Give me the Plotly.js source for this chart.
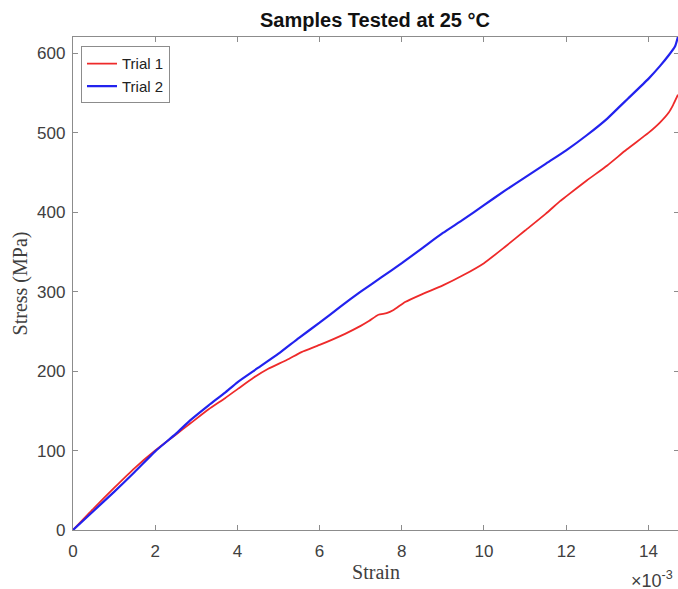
<!DOCTYPE html>
<html>
<head>
<meta charset="utf-8">
<script src="https://cdn.plot.ly/plotly-3.0.1.min.js"></script>
<style>html,body{margin:0;padding:0;overflow:hidden;background:#fff;}</style>
</head>
<body>
<div id="chart"></div>
<script>
// Strain values (x 10^-3) and stress (MPa)
const strainTrial1 = [0, 0.5, 1, 1.5, 2, 2.5, 2.85, 3.3, 3.7, 4.02, 4.4, 4.75, 5.2, 5.56, 6, 6.62, 7, 7.2, 7.43, 7.63, 7.8, 8.08, 8.5, 9, 9.5, 10, 10.5, 11, 11.5, 11.85, 12, 12.5, 13, 13.47, 14, 14.28, 14.5, 14.6, 14.72];
const stressTrial1 = [0, 27, 53, 78, 100, 120, 134, 152, 166, 178, 192, 203, 214, 224, 233, 247, 257, 263, 271, 273, 277, 287, 297, 308, 321, 336, 356, 377, 398, 414, 420, 440, 459, 479, 500, 513, 526, 535, 548];
const strainTrial2 = [0, 0.5, 1, 1.5, 2, 2.5, 2.85, 3.3, 3.7, 4, 4.5, 5, 5.5, 6, 6.5, 7, 7.5, 8, 8.5, 9, 9.5, 10, 10.5, 11, 11.5, 12, 12.5, 13, 13.3, 13.5, 14, 14.28, 14.5, 14.65, 14.72];
const stressTrial2 = [0, 24, 48, 73, 99, 121, 138, 157, 173, 186, 204, 222, 242, 261, 281, 300, 318, 336, 355, 374, 391, 409, 427, 444, 461, 478, 497, 518, 533, 543, 568, 584, 598, 609, 621];
const xTickVals = [0, 2, 4, 6, 8, 10, 12, 14];
const yTickVals = [0, 100, 200, 300, 400, 500, 600];
const seriesNames = ['Trial 1', 'Trial 2'];

const sans = 'Liberation Sans, Arial, Helvetica, sans-serif';
const serif = 'Liberation Serif, Times New Roman, serif';
const axisGray = '#8c8c8c';

const traces = [
  {x: strainTrial1, y: stressTrial1, name: seriesNames[0], mode: 'lines', type: 'scatter',
   line: {color: '#ee2a2a', width: 1.8, shape: 'spline', smoothing: 0.5}},
  {x: strainTrial2, y: stressTrial2, name: seriesNames[1], mode: 'lines', type: 'scatter',
   line: {color: '#2222ee', width: 2.2, shape: 'spline', smoothing: 0.5}}
];

const axisCommon = {
  showline: true, linecolor: axisGray, linewidth: 1.2, mirror: 'ticks',
  ticks: 'inside', ticklen: 5, tickcolor: axisGray, tickwidth: 1,
  showgrid: false, zeroline: false,
  tickfont: {family: sans, size: 17, color: '#404040'}
};

const layout = {
  width: 680, height: 589,
  margin: {l: 73, r: 1, t: 36.5, b: 59},
  paper_bgcolor: '#fff', plot_bgcolor: '#fff',
  showlegend: true,
  title: {text: '<b>Samples Tested at 25 °C</b>', font: {family: sans, size: 20, color: '#111'},
          x: 0.5515, xref: 'container', xanchor: 'center', y: 0.966, yref: 'container', yanchor: 'middle'},
  xaxis: Object.assign({}, axisCommon, {
    range: [0, 14.745], tickvals: xTickVals, ticktext: xTickVals.map(String),
    ticklabelstandoff: 5,
    title: {text: 'Strain', font: {family: serif, size: 20, color: '#404040'}, standoff: 5}
  }),
  yaxis: Object.assign({}, axisCommon, {
    range: [0, 620.7], tickvals: yTickVals, ticktext: yTickVals.map(String),
    ticklabelstandoff: 3,
    title: {text: 'Stress (MPa)', font: {family: serif, size: 20, color: '#404040'}, standoff: 4}
  }),
  legend: {x: 0.0132, y: 0.981, xanchor: 'left', yanchor: 'top',
           bgcolor: '#fff', bordercolor: '#8c8c8c', borderwidth: 1,
           font: {family: sans, size: 15, color: '#222'}, tracegroupgap: 0, itemwidth: 30},
  annotations: [{
    xref: 'paper', yref: 'paper', x: 0.918, y: -0.1, xanchor: 'left', yanchor: 'middle',
    text: '×10<sup>-3</sup>', showarrow: false, font: {family: sans, size: 18, color: '#404040'}
  }]
};

Plotly.newPlot('chart', traces, layout, {displayModeBar: false, staticPlot: true});
</script>
</body>
</html>
